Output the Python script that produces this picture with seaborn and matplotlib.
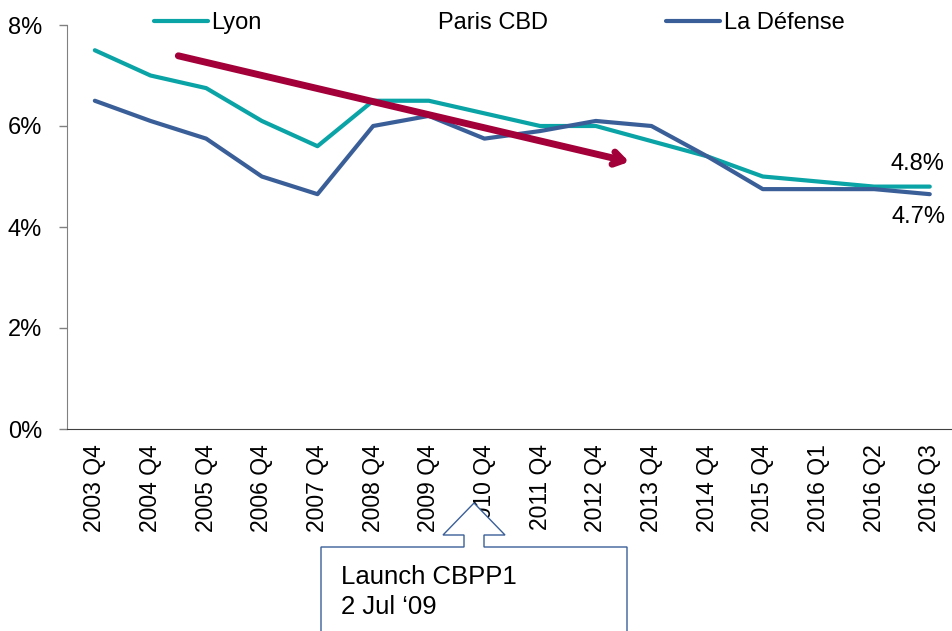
import matplotlib
matplotlib.use('Agg')
import matplotlib.pyplot as plt
from matplotlib.lines import Line2D
from matplotlib.patches import Polygon
import pandas as pd
import seaborn as sns

kwartaly = ['2003 Q4', '2004 Q4', '2005 Q4', '2006 Q4', '2007 Q4', '2008 Q4',
            '2009 Q4', '2010 Q4', '2011 Q4', '2012 Q4', '2013 Q4', '2014 Q4',
            '2015 Q4', '2016 Q1', '2016 Q2', '2016 Q3']
lyon = [7.5, 7.0, 6.75, 6.1, 5.6, 6.5, 6.5, 6.25, 6.0, 6.0, 5.7, 5.4,
        5.0, 4.9, 4.8, 4.8]
la_defense = [6.5, 6.1, 5.75, 5.0, 4.65, 6.0, 6.2, 5.75, 5.9, 6.1, 6.0, 5.4,
              4.75, 4.75, 4.75, 4.65]
serie = ['Lyon', 'Paris CBD', 'La Défense']
kolory = {'Lyon': '#0aa3a6', 'Paris CBD': '#ffffff', 'La Défense': '#3a5f98'}

# trend arrow (category index, %)
strzalka_od = (1.5, 7.39)
strzalka_do = (9.6, 5.29)
etykiety_konca = ['4.8%', '4.7%']

df = pd.DataFrame({
    'kwartal': list(range(len(kwartaly))) * 2,
    'stopa': lyon + la_defense,
    'seria': ['Lyon'] * len(lyon) + ['La Défense'] * len(la_defense),
})

sns.set_style('white')
plt.rcParams['font.family'] = ['Liberation Sans', 'DejaVu Sans']
plt.rcParams['text.color'] = 'black'
plt.rcParams['xtick.labelcolor'] = 'black'
plt.rcParams['ytick.labelcolor'] = 'black'

fig = plt.figure(figsize=(9.52, 6.31), dpi=100)
ax = fig.add_axes([67 / 952, 1 - 429 / 631, 890.6 / 952, 404 / 631])

sns.lineplot(data=df, x='kwartal', y='stopa', hue='seria', palette=kolory,
             linewidth=3, ax=ax, legend=False)

ax.set_xlim(-0.5, len(kwartaly) - 0.5)
ax.set_ylim(0, 8)
ax.set_yticks([0, 2, 4, 6, 8])
ax.set_yticklabels([f'{v}%' for v in [0, 2, 4, 6, 8]], fontsize=17)
ax.set_xticks(range(len(kwartaly)))
ax.set_xticklabels(kwartaly, rotation=90, fontsize=16.5)
ax.set_xticks([i - 0.5 for i in range(len(kwartaly) + 1)], minor=True)
ax.tick_params(axis='x', which='major', length=0, pad=11)
ax.tick_params(axis='x', which='minor', length=6, color='#808080', width=1)
ax.tick_params(axis='y', length=6, color='#808080', width=1, left=True, pad=12)
ax.set_xlabel('')
ax.set_ylabel('')
for s in ['top', 'right']:
    ax.spines[s].set_visible(False)
ax.spines['left'].set_color('#808080')
ax.spines['bottom'].set_color('#404040')

ax.annotate('', xy=strzalka_do, xytext=strzalka_od,
            arrowprops=dict(arrowstyle='->,head_length=0.7,head_width=0.45',
                            color='#a3003a', lw=5, shrinkA=0, shrinkB=0))

ax.text(14.77, lyon[-1] + 0.45, etykiety_konca[0], fontsize=17,
        ha='center', va='center')
ax.text(14.8, la_defense[-1] - 0.45, etykiety_konca[1],
        fontsize=17, ha='center', va='center')

uchwyty = [Line2D([], [], color=kolory[s], lw=3) for s in serie]
ax.legend(uchwyty, serie, loc='upper center', bbox_to_anchor=(0.485, 1.085),
          ncol=3, frameon=False, fontsize=17, handlelength=2.3,
          handletextpad=0.15, columnspacing=5.0)

# callout box
def px(x, y):
    return (x / 952, 1 - y / 631)

obrys = [px(321, 660), px(321, 547), px(464, 547), px(464, 535), px(443, 535),
         px(474, 503), px(505, 535), px(484, 535), px(484, 547), px(627, 547),
         px(627, 660)]
fig.patches.append(Polygon(obrys, closed=True, transform=fig.transFigure,
                           facecolor='white', edgecolor='#3a5f98', lw=1,
                           zorder=5))
fig.text(341 / 952, 1 - 577 / 631, 'Launch CBPP1', fontsize=18.5, va='center',
         zorder=6)
fig.text(341 / 952, 1 - 607 / 631, '2 Jul \u201809', fontsize=18.5, va='center',
         zorder=6)

fig.savefig('out.png', dpi=100)
